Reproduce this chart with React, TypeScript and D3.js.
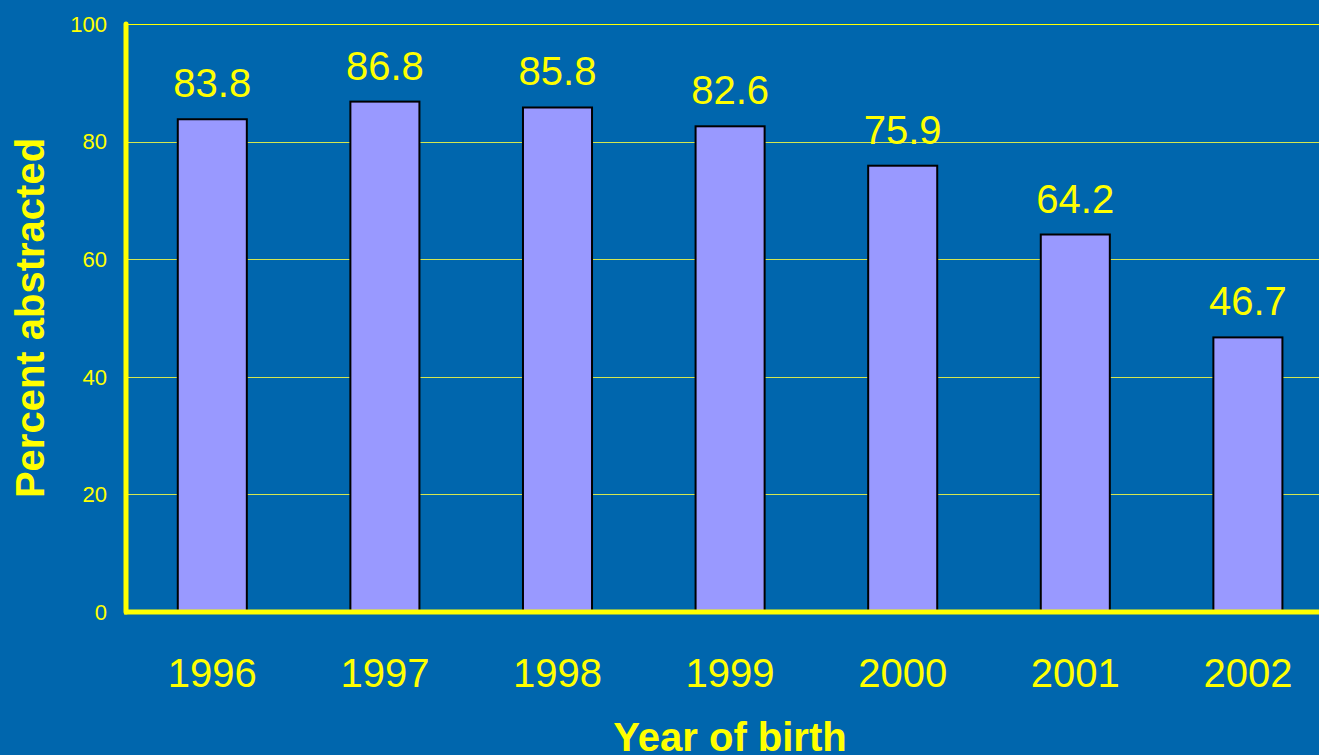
import * as d3 from "d3";

const years = ["1996", "1997", "1998", "1999", "2000", "2001", "2002"];
const percents = [83.8, 86.8, 85.8, 82.6, 75.9, 64.2, 46.7];
const yTicks = [0, 20, 40, 60, 80, 100];

const width = 1319;
const height = 755;
const bg = "#0066ad";
const yellow = "#ffff00";

export default function App() {
  const left = 126;
  const top = 24;
  const bottom = 612;

  const x = d3
    .scaleBand<string>()
    .domain(years)
    .range([left, left + 7 * 172.6])
    .paddingInner(0.6)
    .paddingOuter(0.3);
  const y = d3.scaleLinear().domain([0, 100]).range([bottom, top]);

  return (
    <svg
      width={width}
      height={height}
      style={{ position: "absolute", left: 0, top: 0, display: "block" }}
      fontFamily="'Liberation Sans', Arial, sans-serif"
    >
      <rect width={width} height={height} fill={bg} />

      {/* grid */}
      {yTicks
        .filter((t) => t > 0)
        .map((t) => (
          <line
            key={t}
            x1={left}
            x2={width}
            y1={Math.round(y(t)) + 0.5}
            y2={Math.round(y(t)) + 0.5}
            stroke={t === 100 ? yellow : "#d4e650"}
            strokeWidth={1}
          />
        ))}

      {/* bars */}
      {years.map((yr, i) => (
        <rect
          key={yr}
          x={x(yr)}
          y={y(percents[i])}
          width={x.bandwidth()}
          height={bottom - y(percents[i])}
          fill="#9999ff"
          stroke="#000"
          strokeWidth={2}
        />
      ))}

      {/* value labels */}
      {years.map((yr, i) => (
        <text
          key={yr}
          x={(x(yr) as number) + x.bandwidth() / 2}
          y={y(percents[i]) - 22}
          textAnchor="middle"
          fontSize={40}
          fill={yellow}
        >
          {percents[i].toFixed(1)}
        </text>
      ))}

      {/* axes */}
      <line x1={left} x2={left} y1={top} y2={bottom} stroke={yellow} strokeWidth={5} strokeLinecap="round" />
      <line x1={left - 2} x2={width} y1={bottom} y2={bottom} stroke={yellow} strokeWidth={5} />

      {yTicks.map((t) => (
        <text
          key={t}
          x={107}
          y={y(t)}
          dy="0.35em"
          textAnchor="end"
          fontSize={22}
          fill={yellow}
        >
          {t}
        </text>
      ))}

      {years.map((yr) => (
        <text
          key={yr}
          x={(x(yr) as number) + x.bandwidth() / 2}
          y={687}
          textAnchor="middle"
          fontSize={40}
          fill={yellow}
        >
          {yr}
        </text>
      ))}

      <text
        transform={`translate(44,${(top + bottom) / 2}) rotate(-90)`}
        textAnchor="middle"
        fontSize={40}
        fontWeight="bold"
        fill={yellow}
      >
        Percent abstracted
      </text>
      <text x={730} y={751} textAnchor="middle" fontSize={40} fontWeight="bold" fill={yellow}>
        Year of birth
      </text>
    </svg>
  );
}
